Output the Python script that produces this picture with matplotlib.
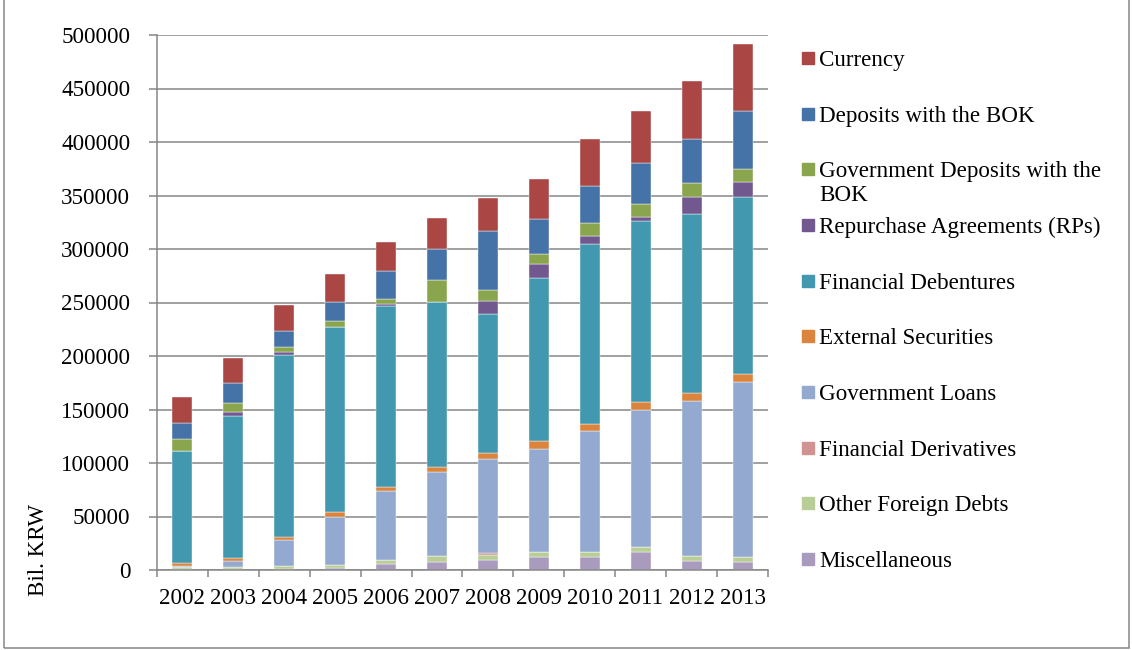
import matplotlib.pyplot as plt
import numpy as np
from matplotlib.patches import Rectangle

plt.rcParams['font.family'] = ['Liberation Serif', 'DejaVu Serif']

years = ['2002', '2003', '2004', '2005', '2006', '2007',
         '2008', '2009', '2010', '2011', '2012', '2013']

# Bil. KRW (bottom of stack first)
misc = [700, 500, 1000, 1500, 5900, 7800, 9300, 11800, 12500, 17100, 8400, 7200]
other_foreign = [2500, 2000, 2700, 3200, 3700, 5000, 4700, 5300, 4300, 4400, 4700, 4900]
fin_deriv = [0, 0, 0, 0, 0, 0, 1900, 0, 0, 0, 0, 0]
gov_loans = [500, 5900, 24050, 45100, 63900, 79100, 88100, 96300, 112800, 128300, 145200, 163900]
ext_sec = [2800, 3100, 3050, 4100, 4400, 4700, 5000, 7500, 6900, 7200, 6800, 6900]
fin_deb = [104700, 132700, 170100, 172900, 168500, 154200, 130000, 152300, 167900, 169200, 167300, 165400]
rps = [0, 3800, 2600, 500, 2500, 0, 12400, 13100, 8100, 3700, 15900, 14000]
gov_dep = [11000, 7800, 4600, 5400, 4700, 20000, 10300, 8700, 11500, 11900, 13100, 12500]
dep_bok = [15500, 18700, 15300, 18100, 25600, 28900, 55400, 32800, 35200, 38600, 41400, 53900]
currency = [24300, 23900, 24600, 25800, 27300, 29000, 30900, 37300, 43300, 48600, 54200, 62900]

stacks = [
    ('Miscellaneous', misc, '#A99BBD'),
    ('Other Foreign Debts', other_foreign, '#B9CD96'),
    ('Financial Derivatives', fin_deriv, '#D19392'),
    ('Government Loans', gov_loans, '#93A9CF'),
    ('External Securities', ext_sec, '#DB843D'),
    ('Financial Debentures', fin_deb, '#4198AF'),
    ('Repurchase Agreements (RPs)', rps, '#71588F'),
    ('Government Deposits with the\nBOK', gov_dep, '#89A54E'),
    ('Deposits with the BOK', dep_bok, '#4572A7'),
    ('Currency', currency, '#AA4643'),
]

W, H = 1132, 650
fig = plt.figure(figsize=(W / 100, H / 100), dpi=100)
ax = fig.add_axes([156.7 / W, 1 - 570 / H, (768.3 - 156.7) / W, (570 - 35) / H])

x = np.arange(len(years))
bottom = np.zeros(len(years))
for label, vals, color in stacks:
    vals = np.array(vals, dtype=float)
    ax.bar(x, vals, width=0.39, bottom=bottom, color=color,
           edgecolor='white', linewidth=0.3, label=label)
    bottom += vals

ax.set_xlim(-0.5, len(years) - 0.5)
ax.set_ylim(0, 500000)
yt = np.arange(0, 500001, 50000)
ax.set_yticks(yt)
ax.set_yticklabels([str(v) for v in yt])
ax.yaxis.grid(True, color='#868686', linewidth=1.1)
ax.set_axisbelow(True)

# category boundary ticks, labels in the middle
ax.set_xticks(np.arange(len(years) + 1) - 0.5)
ax.set_xticklabels([])
ax.set_xticks(x, minor=True)
ax.set_xticklabels(years, minor=True)
ax.tick_params(axis='x', which='major', length=4.8, width=1.1, color='#868686')
ax.tick_params(axis='x', which='minor', length=0, pad=13, labelsize=16.6)
ax.tick_params(axis='y', length=6, width=1.1, color='#868686', pad=13, labelsize=16.6)

for s in ['top', 'right']:
    ax.spines[s].set_visible(False)
for s in ['left', 'bottom']:
    ax.spines[s].set_color('#868686')
    ax.spines[s].set_linewidth(1.1)

fig.text(38 / W, 1 - 550 / H, 'Bil. KRW', rotation=90, ha='center', va='center', fontsize=16.6)

# legend, Excel style (top entry = top of stack)
for i, (label, vals, color) in enumerate(stacks[::-1]):
    yc = 58 + 55.67 * i
    fig.patches.append(Rectangle((802 / W, 1 - (yc + 6) / H), 12 / W, 12 / H,
                                 transform=fig.transFigure, color=color))
    fig.text(819 / W, 1 - (yc - 8) / H, label, ha='left', va='top',
             fontsize=16.6, linespacing=1.15)

# outer chart border
fig.patches.append(Rectangle((4 / W, 2 / H), (1129 - 4) / W, 1.0, transform=fig.transFigure,
                             fill=False, edgecolor='#868686', linewidth=1.1))

fig.savefig('out.png', dpi=100)
